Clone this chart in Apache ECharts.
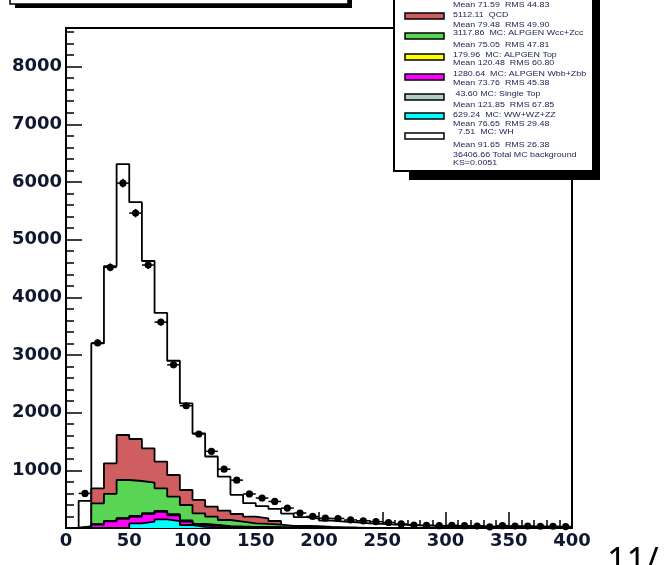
<!DOCTYPE html>
<html><head><meta charset="utf-8">
<script src="https://cdn.jsdelivr.net/npm/echarts@6/dist/echarts.min.js"></script>
<style>html,body{margin:0;padding:0;background:#fff}#c{width:666px;height:565px}</style>
</head><body><div id="c"></div>
<script>
// bin lower edges (width 10)
const binLow = [0,10,20,30,40,50,60,70,80,90,100,110,120,130,140,150,160,170,180,190,200,210,220,230,240,250,260,270,280,290,300,310,320,330,340,350,360,370,380,390];
const binWidth = 10;
// data points
const dataCounts = [null,600,3210,4520,5980,5460,4560,3570,2830,2120,1630,1330,1020,830,590,520,460,345,260,200,170,165,140,125,110,95,70,52,45,40,45,40,35,20,40,35,35,30,30,25];
// total MC background (outline, white fill)
const totalMC = [0,470,3200,4540,6310,5650,4630,3730,2900,2160,1640,1240,890,575,430,380,330,250,190,165,130,110,100,80,70,60,55,45,40,35,35,30,30,25,25,20,20,20,15,15];
// stacked components, bottom to top
const dibosons = [0,0,0,0,0,80,110,150,120,52,20,10,0,0,0,0,0,0,0,0,0,0,0,0,0,0,0,0,0,0,0,0,0,0,0,0,0,0,0,0];
const wbbZbb = [0,0,60,115,160,115,130,130,100,60,35,30,20,15,10,8,5,0,0,0,0,0,0,0,0,0,0,0,0,0,0,0,0,0,0,0,0,0,0,0];
const singleTop = [0,0,1,2,3,4,4,4,4,4,3,3,3,2,2,1,1,0,0,0,0,0,0,0,0,0,0,0,0,0,0,0,0,0,0,0,0,0,0,0];
const alpgenTop = [0,0,3,5,8,10,12,14,14,14,13,12,11,10,9,8,7,6,5,4,3,2,2,1,1,0,0,0,0,0,0,0,0,0,0,0,0,0,0,0];
const wccZcc = [0,30,364,468,661,606,530,390,305,269,184,141,105,83,60,53,47,29,30,16,7,5,3,2,2,0,0,0,0,0,0,0,0,0,0,0,0,0,0,0];
const qcd = [0,0,260,532,781,728,596,462,376,260,231,174,161,133,115,98,61,0,0,10,8,5,0,0,0,0,0,0,0,0,0,0,0,0,0,0,0,0,0,0];

const stackDefs = [
  {name:'MC: WW+WZ+ZZ', vals:dibosons, color:'#00ffff'},
  {name:'MC: ALPGEN Wbb+Zbb', vals:wbbZbb, color:'#ff00ff'},
  {name:'MC: Single Top', vals:singleTop, color:'#b0cfc7'},
  {name:'MC: ALPGEN Top', vals:alpgenTop, color:'#ffff00'},
  {name:'MC: ALPGEN Wcc+Zcc', vals:wccZcc, color:'#59d454'},
  {name:'QCD', vals:qcd, color:'#cf5e61'}
];

const legendLines = [
  ['Mean 71.59  RMS 44.83', 5],
  ['5112.11  QCD', 15],
  ['Mean 79.48  RMS 49.90', 25],
  ['3117.86  MC: ALPGEN Wcc+Zcc', 33.5],
  ['Mean 75.05  RMS 47.81', 45],
  ['179.96  MC: ALPGEN Top', 55],
  ['Mean 120.48  RMS 60.80', 63],
  ['1280.64  MC: ALPGEN Wbb+Zbb', 74],
  ['Mean 73.76  RMS 45.38', 83],
  [' 43.60 MC: Single Top', 94],
  ['Mean 121.85  RMS 67.85', 105],
  ['629.24  MC: WW+WZ+ZZ', 115],
  ['Mean 76.65  RMS 29.48', 124],
  ['  7.51  MC: WH', 132],
  ['Mean 91.65  RMS 26.38', 145],
  ['36406.66 Total MC background', 155],
  ['KS=0.0051', 163]
];
const legendBoxes = [
  ['#cf5e61', 16], ['#59d454', 36], ['#ffff00', 57], ['#ff00ff', 77],
  ['#b0cfc7', 97], ['#00ffff', 116], ['#ffffff', 136]
];

function stepData(vals){
  const d = [];
  for (let i=0;i<binLow.length;i++) d.push([binLow[i], vals[i]]);
  d.push([binLow[binLow.length-1]+binWidth, vals[vals.length-1]]);
  d.push([binLow[binLow.length-1]+binWidth, 0]);
  return d;
}
function histSeries(vals, color, z){
  return {type:'line', step:'end', data:stepData(vals), symbol:'none', showSymbol:false, silent:true,
    z:z, lineStyle:{color:'#000', width:1.8}, areaStyle:{color:color, opacity:1, origin:'start'}};
}

const series = [];
series.push(histSeries(totalMC, '#ffffff', 2));
// cumulative levels
const cum = [];
let run = binLow.map(()=>0);
stackDefs.forEach(s=>{ run = run.map((v,i)=>v+s.vals[i]); cum.push(run.slice()); });
for (let k=stackDefs.length-1;k>=0;k--){
  series.push(histSeries(cum[k], stackDefs[k].color, 3+(stackDefs.length-1-k)));
}
const pts = [];
binLow.forEach((b,i)=>{ if (dataCounts[i]!=null) pts.push([b+binWidth/2, dataCounts[i], Math.sqrt(dataCounts[i])]); });
series.push({type:'custom', z:20, silent:true, data:pts,
  renderItem:function(params, api){
    const x=api.value(0), y=api.value(1), e=api.value(2);
    const c=api.coord([x,y]), lo=api.coord([x,y-e]), hi=api.coord([x,y+e]);
    const l=api.coord([x-binWidth/2,y]), r=api.coord([x+binWidth/2,y]);
    return {type:'group', children:[
      {type:'line', shape:{x1:lo[0],y1:lo[1],x2:hi[0],y2:hi[1]}, style:{stroke:'#000',lineWidth:1.5}},
      {type:'line', shape:{x1:l[0],y1:l[1],x2:r[0],y2:r[1]}, style:{stroke:'#000',lineWidth:1.5}},
      {type:'circle', shape:{cx:c[0],cy:c[1],r:3.6}, style:{fill:'#000'}}
    ]};
  }});

const graphics = [];
// top-left pave
graphics.push({type:'rect', z:100, shape:{x:15,y:-10,width:337,height:18}, style:{fill:'#000'}});
graphics.push({type:'rect', z:101, shape:{x:10,y:-12,width:338,height:16}, style:{fill:'#fff', stroke:'#000', lineWidth:1.5}});
// legend pave
graphics.push({type:'rect', z:100, shape:{x:409,y:-10,width:191,height:190}, style:{fill:'#000'}});
graphics.push({type:'rect', z:101, shape:{x:394,y:-12,width:199,height:183}, style:{fill:'#fff', stroke:'#000', lineWidth:2}});
legendBoxes.forEach(b=>{
  graphics.push({type:'rect', z:102, shape:{x:405,y:b[1]-3,width:39,height:6}, style:{fill:b[0], stroke:'#000', lineWidth:1.5}});
});
legendLines.forEach(t=>{
  graphics.push({type:'text', z:102, x:453, y:t[1], scaleX:1.27, style:{text:t[0], x:0, y:0, fill:'#1a2050', font:'7px "Liberation Sans"', verticalAlign:'middle', align:'left'}});
});
graphics.push({type:'text', z:102, x:607, y:545, style:{text:'11/', fill:'#000', font:'34px "Noto Sans"', verticalAlign:'top', align:'left'}});

const labelStyle = {fontFamily:'DejaVu Sans', fontWeight:'bold', fontSize:18, color:'#101830'};
const option = {
  animation:false,
  grid:{left:66, top:28, width:506, height:500, show:true, borderColor:'#000', borderWidth:2, backgroundColor:'transparent'},
  xAxis:[
    {type:'value', min:0, max:400, interval:50, axisLine:{lineStyle:{color:'#000',width:2}},
     axisTick:{inside:true,length:16,lineStyle:{color:'#000',width:1.5}}, splitLine:{show:false},
     axisLabel:Object.assign({margin:4, showMinLabel:true, showMaxLabel:true}, labelStyle)},
    {type:'value', min:0, max:400, interval:10, position:'bottom', axisLine:{show:false},
     axisTick:{inside:true,length:8,lineStyle:{color:'#000',width:1.5}}, axisLabel:{show:false}, splitLine:{show:false}}
  ],
  yAxis:[
    {type:'value', min:0, max:8670, interval:1000, axisLine:{show:true, lineStyle:{color:'#000',width:2}},
     axisTick:{show:true, inside:true,length:16,lineStyle:{color:'#000',width:1.5}}, splitLine:{show:false},
     axisLabel:Object.assign({margin:4, formatter:function(v){return (v>0 && v%1000===0)? String(v):'';}}, labelStyle)},
    {type:'value', min:0, max:8670, interval:200, position:'left', axisLine:{show:false},
     axisTick:{show:true, inside:true,length:8,lineStyle:{color:'#000',width:1.5}}, axisLabel:{show:false}, splitLine:{show:false}}
  ],
  series:series,
  graphic:graphics
};
const chart = echarts.init(document.getElementById('c'), null, {renderer:'canvas'});
chart.setOption(option);
</script></body></html>
